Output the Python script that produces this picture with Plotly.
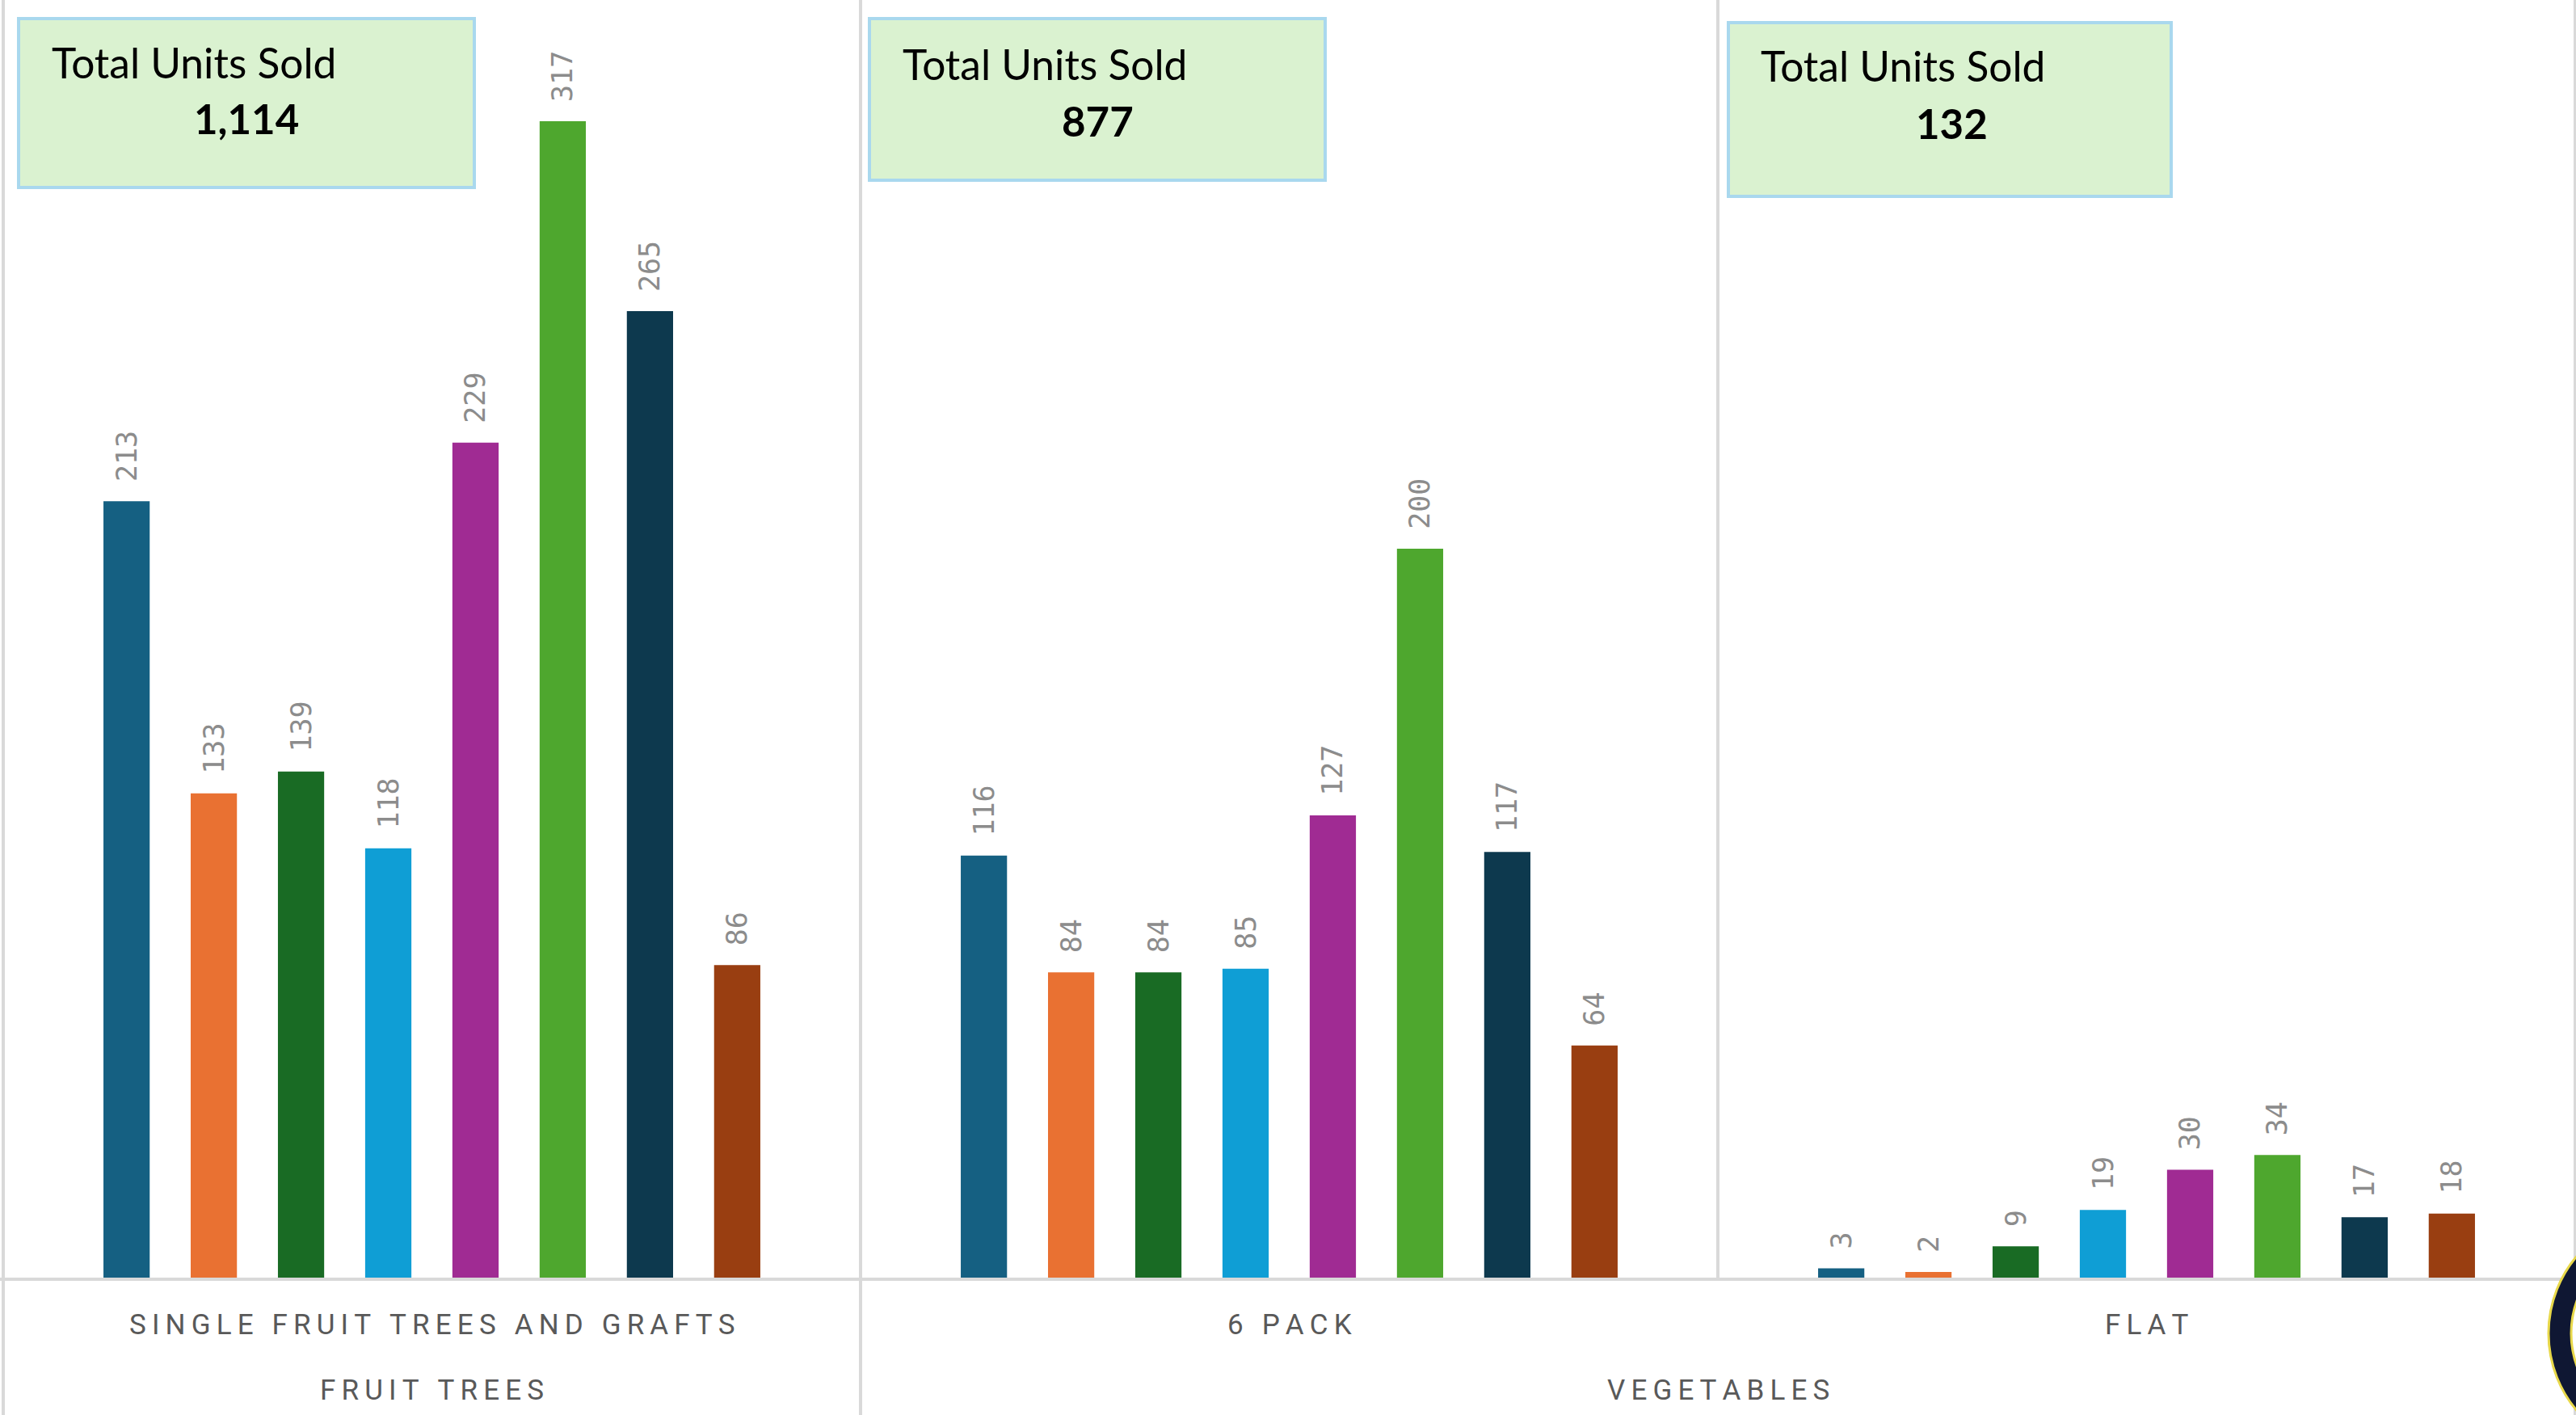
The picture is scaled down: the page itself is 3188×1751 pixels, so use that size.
import plotly.graph_objects as go

W, H = 3188, 1751

# ---- data ----
categories = ["Single Fruit Trees and Grafts", "6 Pack", "Flat"]
parents = ["Fruit Trees", "Vegetables", "Vegetables"]
series_names = ["Series 1", "Series 2", "Series 3", "Series 4",
                "Series 5", "Series 6", "Series 7", "Series 8"]
single_fruit_trees = [213, 133, 139, 118, 229, 317, 265, 86]
six_pack = [116, 84, 84, 85, 127, 200, 117, 64]
flat = [3, 2, 9, 19, 30, 34, 17, 18]
totals = [1114, 877, 132]
total_title = "Total Units Sold"

# ---- styles ----
colors = ["#156082", "#E97132", "#196B24", "#0F9ED5",
          "#A02B93", "#4EA72E", "#0D394E", "#993E11"]
grid_color = "#D9D9D9"
label_color = "#595959"

fig = go.Figure()
for i, name in enumerate(series_names):
    vals = [single_fruit_trees[i], six_pack[i], flat[i]]
    fig.add_trace(go.Bar(
        x=categories, y=vals, name=name,
        marker=dict(color=colors[i], line=dict(width=0)),
        texttemplate="\u00a0%{y}",
        textposition="outside", textangle=-90,
        textfont=dict(family="DejaVu Sans Mono", size=35, color="#8C8C8C"),
        constraintext="none", cliponaxis=False,
    ))

max_val = max(single_fruit_trees + six_pack + flat)
y_top = max_val * 1.1047
y_bot = -max_val * 0.1172

n = len(categories)
unit_px = (W - 5) / n
x_lo = -0.5 - 4 / unit_px
x_hi = n - 0.5 + 1 / unit_px

shapes = []
# vertical separators
for k in range(n + 1):
    xv = k - 0.5
    full = (k == 0 or k == n or parents[k - 1] != parents[k])
    if full:
        shapes.append(dict(type="line", xref="x", yref="paper", x0=xv, x1=xv,
                           y0=0, y1=1, line=dict(color=grid_color, width=4), layer="below"))
    else:
        shapes.append(dict(type="line", xref="x", yref="y", x0=xv, x1=xv,
                           y0=0, y1=y_top, line=dict(color=grid_color, width=4), layer="below"))
# baseline
shapes.append(dict(type="line", xref="paper", yref="y", x0=0, x1=1, y0=0, y1=0,
                   line=dict(color=grid_color, width=4), layer="above"))

# total boxes (pixel boxes converted to paper)
box_px = [(23, 23, 587, 232), (1076, 23, 1640, 223), (2139, 28, 2687, 243)]
title_px = [(62, 77), (1115, 79), (2177, 81)]
value_px = [(305, 146), (1358, 149), (2415, 152)]


def px(x, y):
    return x / W, 1 - y / H


annotations = []
for b, t, v, tot in zip(box_px, title_px, value_px, totals):
    x0, y0 = px(b[0], b[1])
    x1, y1 = px(b[2], b[3])
    shapes.append(dict(type="rect", xref="paper", yref="paper", x0=x0, x1=x1, y0=y1, y1=y0,
                       fillcolor="#DAF2D0", line=dict(color="#A9D8EE", width=4), layer="above"))
    tx, ty = px(*t)
    annotations.append(dict(xref="paper", yref="paper", x=tx, y=ty, xanchor="left", yanchor="middle",
                            text=total_title, showarrow=False,
                            font=dict(family="Lato", size=51.5, color="#000000")))
    vx, vy = px(*v)
    annotations.append(dict(xref="paper", yref="paper", x=vx, y=vy, xanchor="center", yanchor="middle",
                            text=f"<b>{tot:,}</b>", showarrow=False,
                            font=dict(family="Lato", size=51, color="#000000")))


def spaced(s):
    return "\u2009".join(s.upper())


# category labels
for i, c in enumerate(categories):
    annotations.append(dict(xref="x", yref="paper", x=i, y=1 - 1639 / H, xanchor="center",
                            yanchor="middle", text=spaced(c), showarrow=False,
                            font=dict(family="Roboto", size=35, color=label_color)))
# parent labels
groups = []
for i, p in enumerate(parents):
    if groups and groups[-1][0] == p:
        groups[-1][1].append(i)
    else:
        groups.append((p, [i]))
for p, idx in groups:
    annotations.append(dict(xref="x", yref="paper", x=sum(idx) / len(idx), y=1 - 1720 / H,
                            xanchor="center", yanchor="middle", text=spaced(p), showarrow=False,
                            font=dict(family="Roboto", size=35, color=label_color)))

# partial logo at bottom-right corner
shapes.append(dict(type="circle", xref="paper", yref="paper",
                   x0=(3302 - 148) / W, x1=(3302 + 148) / W,
                   y0=1 - (1650 + 148) / H, y1=1 - (1650 - 148) / H,
                   fillcolor="#0F1733", line=dict(color="#E8D84A", width=3), layer="above"))
shapes.append(dict(type="circle", xref="paper", yref="paper",
                   x0=(3302 - 120) / W, x1=(3302 + 120) / W,
                   y0=1 - (1650 + 120) / H, y1=1 - (1650 - 120) / H,
                   fillcolor="#FFFFFF", line=dict(color="#E8D84A", width=3), layer="above"))

fig.update_layout(
    width=W, height=H,
    margin=dict(l=0, r=0, t=0, b=0),
    paper_bgcolor="#FFFFFF", plot_bgcolor="#FFFFFF",
    barmode="group", bargap=0.186, bargroupgap=0.47,
    showlegend=False,
    xaxis=dict(range=[x_lo, x_hi], showticklabels=False, showgrid=False, zeroline=False,
               showline=False, ticks=""),
    yaxis=dict(range=[y_bot, y_top], showticklabels=False, showgrid=False, zeroline=False,
               showline=False, ticks=""),
    shapes=shapes, annotations=annotations,
)

fig.write_html("out.html", config={"displayModeBar": False},
               post_script="document.body.style.margin='0';")
